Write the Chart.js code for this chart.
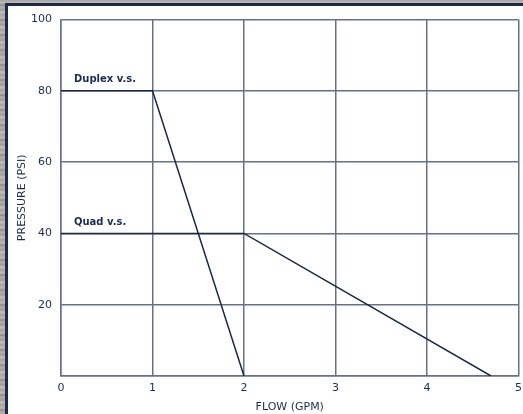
<!DOCTYPE html>
<html>
<head>
<meta charset="utf-8">
<script src="https://cdn.jsdelivr.net/npm/chart.js@4/dist/chart.umd.min.js"></script>
<style>
  html, body { margin: 0; padding: 0; }
  body {
    width: 523px; height: 414px; overflow: hidden; position: relative;
    background: repeating-linear-gradient(to bottom,
      #a8a6a1 0px, #bdbbb6 3px, #8e8c87 5px, #b3b1ac 7px, #9d9b96 10px, #c4c2bd 12px, #a3a19c 15px);
  }
  #frame {
    position: absolute; left: 5px; top: 3px; width: 515px; height: 408px;
    border-left: 3px solid #1b2a4c; border-top: 3px solid #1b2a4c;
    background: #ffffff;
  }
  #wrap { position: absolute; left: 0; top: 0; width: 515px; height: 408px; }
</style>
</head>
<body>
<div id="frame"><div id="wrap"><canvas id="c"></canvas></div></div>
<script>
// ---- data ----
const duplexFlow = [0, 1, 2];
const duplexPressure = [80, 80, 0];
const quadFlow = [0, 2, 4.7];
const quadPressure = [40, 40, 0];
const seriesLabels = ['Duplex v.s.', 'Quad v.s.'];
const xTickLabels = ['0', '1', '2', '3', '4', '5'];
const yTickLabels = ['', '20', '40', '60', '80', '100'];
const xTitle = 'FLOW (GPM)';
const yTitle = 'PRESSURE (PSI)';

const navy = '#1e2b4e';
const gridColor = '#66708a';
const lineColor = '#1a2747';
const FONT = '"DejaVu Sans", Verdana, sans-serif';

function toPoints(xs, ys) { return xs.map((x, i) => ({ x: x, y: ys[i] })); }

const seriesLabelPlugin = {
  id: 'seriesLabels',
  afterDatasetsDraw(chart) {
    const ctx = chart.ctx;
    const xs = chart.scales.x, ys = chart.scales.y;
    ctx.save();
    ctx.font = 'bold 10px ' + FONT;
    ctx.fillStyle = navy;
    ctx.textAlign = 'left';
    ctx.textBaseline = 'middle';
    chart.data.datasets.forEach((ds) => {
      const p = ds.data[0];
      ctx.fillText(ds.label, xs.getPixelForValue(p.x) + 13, ys.getPixelForValue(p.y) - 11);
    });
    ctx.restore();
  }
};

new Chart(document.getElementById('c'), {
  type: 'scatter',
  data: {
    datasets: [
      { label: seriesLabels[0], data: toPoints(duplexFlow, duplexPressure), showLine: true,
        borderColor: lineColor, borderWidth: 1.5, pointRadius: 0, fill: false, tension: 0 },
      { label: seriesLabels[1], data: toPoints(quadFlow, quadPressure), showLine: true,
        borderColor: lineColor, borderWidth: 1.5, pointRadius: 0, fill: false, tension: 0 }
    ]
  },
  options: {
    responsive: true,
    maintainAspectRatio: false,
    animation: false,
    devicePixelRatio: 1,
    layout: { padding: { top: 13.5, right: 4.5, left: 0, bottom: 0 } },
    plugins: { legend: { display: false }, tooltip: { enabled: false } },
    scales: {
      x: {
        type: 'linear', min: 0, max: 5,
        afterBuildTicks: (s) => { s.ticks = xTickLabels.map((t, i) => ({ value: i })); },
        ticks: { color: navy, font: { family: FONT, size: 11 }, padding: 6, maxRotation: 0,
          callback: (v, i) => xTickLabels[i] },
        grid: { color: gridColor, lineWidth: 1.5, drawTicks: false },
        border: { display: true, color: gridColor, width: 1.5 },
        title: { display: true, text: xTitle, color: navy, font: { family: FONT, size: 11 },
          padding: { top: 0, bottom: 0 } },
        afterFit: (s) => { s.height = 38; s.paddingLeft = 0; s.paddingRight = 0; }
      },
      y: {
        type: 'linear', min: 0, max: 100,
        afterBuildTicks: (s) => { s.ticks = yTickLabels.map((t, i) => ({ value: i * 20 })); },
        ticks: { color: navy, font: { family: FONT, size: 11 }, padding: 9,
          callback: (v, i) => yTickLabels[i] },
        grid: { color: gridColor, lineWidth: 1.5, drawTicks: false },
        border: { display: true, color: gridColor, width: 1.5 },
        title: { display: true, text: yTitle, color: navy, font: { family: FONT, size: 11 },
          padding: { top: 8, bottom: 0 } },
        afterFit: (s) => { s.width = 53; s.paddingTop = 0; s.paddingBottom = 0; }
      }
    }
  },
  plugins: [seriesLabelPlugin]
});
</script>
</body>
</html>
